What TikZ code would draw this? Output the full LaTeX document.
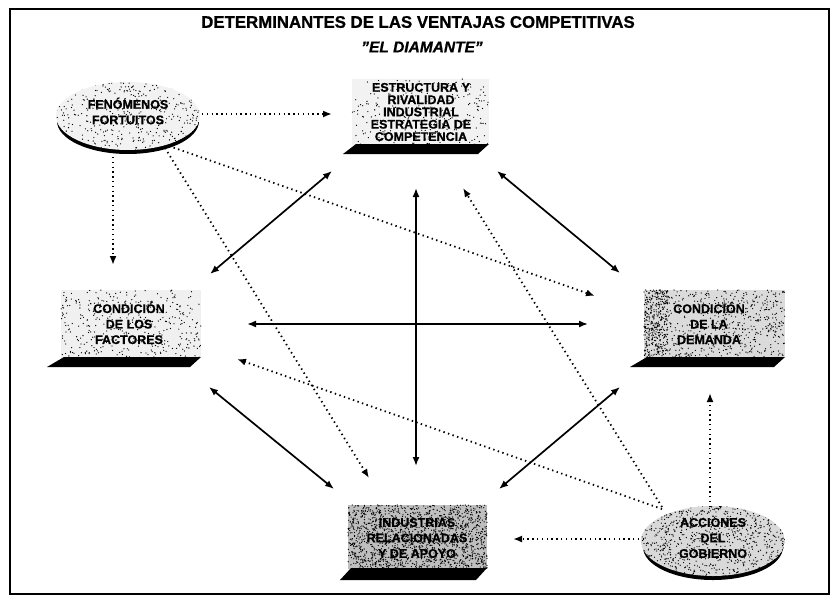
\documentclass[tikz,border=0pt]{standalone}
\usepackage{fontspec}
\setmainfont{Liberation Sans}[BoldFeatures={FakeBold=0.8},BoldItalicFeatures={FakeBold=0.8}]
\usetikzlibrary{arrows.meta}
\newcommand{\speck}[6]{%
  \foreach \i in {1,...,#5}{%
    \pgfmathsetmacro\px{#1+rnd*(#3-#1)}%
    \pgfmathsetmacro\py{#2+rnd*(#4-#2)}%
    \fill[#6] (\px,\py) circle (0.65);}}
\tikzset{
  lbl/.style={align=center, font=\fontsize{12.5}{15.5}\selectfont\bfseries, inner sep=1pt},
  shadowface/.style={fill=black},
  twoway/.style={{Latex[length=9pt,width=7pt]}-{Latex[length=9pt,width=7pt]}, line width=1.7pt},
  dotarrow/.style={-{Latex[length=9pt,width=7pt]}, line width=1.8pt, dash pattern=on 1.4pt off 3.4pt},
}
\begin{document}
\begin{tikzpicture}[x=1pt,y=-1pt]
\pgfmathsetseed{4217}
\useasboundingbox (0,0) rectangle (834,602);
\fill[white] (0,0) rectangle (834,602);
\draw[line width=1.8pt] (10,9) rectangle (829,594);

% titles
\node[font=\fontsize{16.8}{18}\selectfont\bfseries] (title) at (418,22) {DETERMINANTES DE LAS VENTAJAS COMPETITIVAS};
\node[font=\fontsize{15.5}{18}\selectfont\bfseries\itshape] (subtitle) at (422,47) {\symbol{34}EL DIAMANTE\symbol{34}};

% ---- Estructura box
\fill[gray!10] (352,79) rectangle (489,145);
\speck{352}{79}{489}{145}{260}{black}
\fill[shadowface] (356,144) -- (489,144) -- (478,154) -- (343,154) -- cycle;
\node[lbl, font=\fontsize{12.5}{12.3}\selectfont\bfseries] (est) at (421,112) {ESTRUCTURA Y\\RIVALIDAD\\INDUSTRIAL\\ESTRATEGIA DE\\COMPETENCIA};

% ---- Factores box
\fill[gray!12] (61,290) rectangle (201,358);
\speck{61}{290}{201}{358}{380}{black}
\fill[shadowface] (64,357) -- (201,357) -- (190,367) -- (47,367) -- cycle;
\node[lbl] (fac) at (129,323) {CONDICIÓN\\DE LOS\\FACTORES};

% ---- Demanda box
\fill[gray!28] (644,290) rectangle (785,358);
\speck{644}{290}{785}{358}{650}{black}
\speck{644}{290}{668}{358}{300}{black}
\fill[shadowface] (647,357) -- (785,357) -- (774,367) -- (630,367) -- cycle;
\node[lbl] (dem) at (709,323) {CONDICIÓN\\DE LA\\DEMANDA};

% ---- Industrias box
\fill[gray!50] (348,505) rectangle (487,569);
\speck{348}{505}{487}{569}{1600}{black}
\fill[shadowface] (351,568) -- (487,568) -- (476,580) -- (340,580) -- cycle;
\node[lbl] (ind) at (417,538) {INDUSTRIAS\\RELACIONADAS\\Y DE APOYO};

% ---- Fenomenos ellipse
\fill[black] (128,121) ellipse (71 and 33);
\begin{scope}
\clip (128,116) ellipse (72 and 34);
\fill[gray!10] (128,116) ellipse (72 and 34);
\speck{56}{82}{200}{150}{420}{black}
\end{scope}
\node[lbl] (fen) at (128,111) {FENÓMENOS\\FORTUITOS};

% ---- Acciones ellipse
\fill[black] (713,547) ellipse (70 and 33);
\begin{scope}
\clip (713,541) ellipse (72 and 35);
\fill[gray!30] (713,541) ellipse (72 and 35);
\speck{641}{506}{785}{576}{900}{black}
\end{scope}
\node[lbl] (acc) at (713,538) {ACCIONES\\DEL\\GOBIERNO};

% ---- connector end points
\coordinate (eF) at (332,171);  \coordinate (fE) at (210,274);
\coordinate (eD) at (497,171);  \coordinate (dE) at (620,273);
\coordinate (eI) at (416,188);  \coordinate (iE) at (416,466);
\coordinate (fD) at (247,324);  \coordinate (dF) at (588,324);
\coordinate (fI) at (209,387);  \coordinate (iF) at (334,489);
\coordinate (dI) at (620,387);  \coordinate (iD) at (499,489);

\coordinate (fenE) at (202,114); \coordinate (estL) at (332,114);
\coordinate (fenF) at (113,157); \coordinate (facT) at (113,265);
\coordinate (fenD) at (169,146); \coordinate (demL) at (595,296);
\coordinate (fenI) at (165,148); \coordinate (indT) at (369,478);
\coordinate (accF) at (662,509); \coordinate (facR) at (237,359);
\coordinate (accE) at (662,507); \coordinate (estB) at (463,188);
\coordinate (accI) at (644,539); \coordinate (indR) at (513,539);
\coordinate (accD) at (710,507); \coordinate (demB) at (710,393);

% ---- solid two-way arrows
\draw[twoway] (eF) -- (fE);
\draw[twoway] (eD) -- (dE);
\draw[twoway] (eI) -- (iE);
\draw[twoway] (fD) -- (dF);
\draw[twoway] (fI) -- (iF);
\draw[twoway] (dI) -- (iD);

% ---- dotted arrows
\draw[dotarrow] (fenE) -- (estL);
\draw[dotarrow] (fenF) -- (facT);
\draw[dotarrow] (fenD) -- (demL);
\draw[dotarrow] (fenI) -- (indT);
\draw[dotarrow] (accF) -- (facR);
\draw[dotarrow] (accE) -- (estB);
\draw[dotarrow] (accI) -- (indR);
\draw[dotarrow] (accD) -- (demB);
\end{tikzpicture}
\end{document}
